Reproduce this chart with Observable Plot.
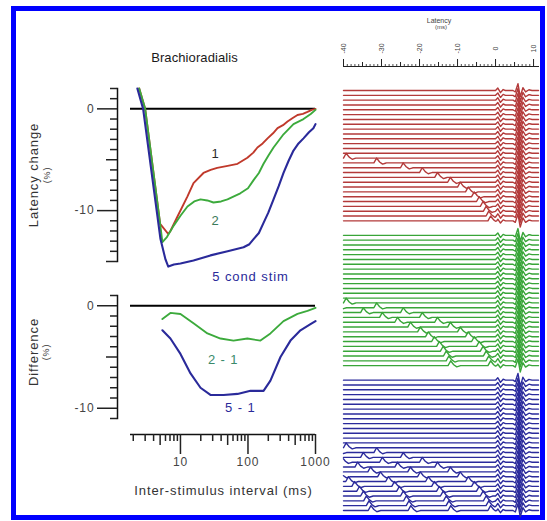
<!DOCTYPE html>
<html><head><meta charset="utf-8">
<script src="https://cdn.jsdelivr.net/npm/d3@7"></script>
<script src="https://cdn.jsdelivr.net/npm/@observablehq/plot@0.6"></script>
<style>
body{margin:0;background:#fff;}
#wrap{position:relative;width:547px;height:521px;overflow:hidden;font-family:"Liberation Sans",Arial,sans-serif;}
#wrap svg{position:absolute;left:0;top:0;}
#border{position:absolute;left:11px;top:6px;width:524px;height:504px;border:5px solid #0000ff;}
</style></head><body><div id="wrap"><div id="border"></div></div>
<script>
// ---------- data: left panels (ISI in ms, change in %) ----------
const redISI    = [2.45, 3.0, 5.0, 6.6, 7.1, 9.0, 12.7, 15.6, 21.9, 28, 35, 50, 70, 98, 120, 138, 165, 195, 235, 274, 330, 385, 460, 541, 650, 761, 880, 1000];
const redChange = [2.0, 0, -11.3, -12.3, -12.0, -10.6, -8.6, -7.3, -6.3, -6.0, -5.8, -5.6, -5.4, -4.8, -4.3, -3.8, -3.4, -2.9, -2.4, -1.9, -1.6, -1.25, -0.9, -0.6, -0.5, -0.3, -0.1, 0];
const greenISI    = [2.45, 3.0, 5.0, 5.4, 6.3, 7.9, 10, 12.7, 16, 19.8, 25, 30.8, 40, 49.7, 77, 100, 121, 145, 170, 200, 239, 336, 472, 664, 850, 1000];
const greenChange = [2.0, 0, -11.3, -13.1, -12.6, -11.5, -10.5, -9.6, -9.1, -8.9, -9.0, -9.2, -9.1, -8.9, -8.3, -7.8, -7.0, -6.3, -5.4, -4.6, -3.8, -2.5, -1.5, -1.0, -0.5, -0.1];
const blueISI    = [2.3, 2.8, 5.06, 6.0, 6.6, 8, 10, 15.6, 27.8, 50, 86, 105, 121, 145, 170, 200, 239, 285, 336, 400, 472, 560, 664, 800, 930, 1000];
const blueChange = [2.0, 0, -12.8, -14.8, -15.5, -15.3, -15.2, -14.9, -14.4, -14.0, -13.6, -13.3, -12.8, -12.2, -11.2, -10.2, -8.9, -7.6, -6.3, -5.1, -4.1, -3.4, -2.9, -2.3, -1.9, -1.5];

const diff21ISI = [5.4, 7.1, 10, 15.6, 25.1, 39.2, 61, 98, 153, 215, 336, 541, 761, 1000];
const diff21    = [-1.3, -0.7, -0.8, -1.7, -2.7, -3.2, -3.4, -3.2, -3.4, -2.7, -1.5, -0.8, -0.5, -0.2];
const diff51ISI = [5.4, 7.1, 10, 14.1, 19.8, 27.8, 43.4, 70, 109, 170, 215, 303, 426, 599, 843, 1000];
const diff51    = [-2.4, -3.2, -4.7, -6.6, -8.0, -8.7, -8.7, -8.6, -8.3, -8.3, -7.3, -5.0, -3.4, -2.4, -1.8, -1.5];

const topLabelText = ["1", "2", "5 cond stim"];
const topLabelISI  = [33, 33, 109];
const topLabelVal  = [-4.4, -11.0, -16.5];
const botLabelText = ["2 - 1", "5 - 1"];
const botLabelISI  = [43, 77];
const botLabelVal  = [-5.3, -10.0];

const yTopMajor = [0, -10];
const yTopMid = [-5, -15];
const yTopMinor = [2, 1, -1, -2, -3, -4, -6, -7, -8, -9, -11, -12, -13, -14];
const yBotMajor = [0, -10];
const yBotMid = [-5];
const yBotMinor = [1, -1, -2, -3, -4, -6, -7, -8, -9, -11];
const xMajor = [10, 100, 1000];
const xMid = [5, 50, 500];
const xMinor = [2, 3, 4, 6, 7, 8, 9, 20, 30, 40, 60, 70, 80, 90, 200, 300, 400, 600, 700, 800, 900];

// ---------- data: right panel (sweeps) ----------
const latencyTicks = [-40, -30, -20, -10, 0, 10];
const isiList = [1000, 794, 631, 501, 398, 316, 251, 200, 158, 126, 100, 79, 63, 50, 40, 32, 25, 20, 16, 12.6, 10, 7.9, 6.3, 5, 4, 3.2, 2.5, 2];
const groupStim = [1, 2, 5];
const groupRow0 = [0, 30, 60];
const trainGap = 10.5;
const responseShape = [[-0.5,0],[0,0],[0.6,0.5],[1.3,-0.45],[2.0,0.2],[2.6,0],[4.6,0],[5.2,-0.3],[5.9,1.4],[6.5,-1.3],[7.2,0.6],[7.9,-0.3],[8.8,0.15],[9.6,0]];
const artifactShape = [[0,0],[0.7,1.0],[1.5,0.2],[2.3,-0.25],[3.3,0]];

// ---------- styles ----------
const RED = "#c0392b", GREEN = "#3caa3c", BLUE = "#2a2a9a";
const TRACE = ["#b33a3a", "#38a538", "#2b2b9c"];
const W = 547, H = 521;
const FONT = "'Liberation Sans', Arial, sans-serif";
const baseStyle = {background: "none", fontFamily: FONT, color: "#222", overflow: "visible", letterSpacing: "0.9px"};
const isiDomain = [1.82, 1000];
const zip = (xs, ys) => xs.map((x, i) => ({x, y: ys[i]}));
const fmt = d => String(d);

const wrap = document.getElementById("wrap");

// ---------- top-left panel ----------
const topPlot = Plot.plot({
  width: W, height: H,
  marginLeft: 117, marginRight: W - 315, marginTop: 88, marginBottom: H - 261,
  x: {type: "log", domain: isiDomain, range: [130, 315], axis: null},
  y: {domain: [-15, 2]},
  style: baseStyle,
  marks: [
    Plot.frame({anchor: "left", stroke: "#111", strokeWidth: 1.5}),
    Plot.axisY({ticks: yTopMajor, tickSize: 20, tickPadding: 3, tickFormat: fmt, label: null, fontSize: 12, fill: "#444", strokeWidth: 1.5}),
    Plot.axisY({ticks: yTopMid, tickSize: 11, tickFormat: () => "", label: null, strokeWidth: 1.5}),
    Plot.axisY({ticks: yTopMinor, tickSize: 7, tickFormat: () => "", label: null, strokeWidth: 1.5}),
    Plot.ruleY([0], {x1: isiDomain[0], x2: isiDomain[1], stroke: "#000", strokeWidth: 2}),
    Plot.line(zip(redISI, redChange), {x: "x", y: "y", stroke: RED, strokeWidth: 1.9}),
    Plot.line(zip(greenISI, greenChange), {x: "x", y: "y", stroke: GREEN, strokeWidth: 1.9}),
    Plot.line(zip(blueISI, blueChange), {x: "x", y: "y", stroke: BLUE, strokeWidth: 2.1}),
    Plot.text(topLabelText, {x: (d, i) => topLabelISI[i], y: (d, i) => topLabelVal[i], text: d => d,
      fill: ["#2a2a2a", "#3a7a5a", BLUE], fontSize: 13}),
    Plot.text(["Brachioradialis"], {frameAnchor: "top", textAnchor: "middle", lineAnchor: "middle", dx: -22, dy: -31, fontSize: 13, fill: "#1a1a1a"}),
    Plot.text(["Latency change"], {frameAnchor: "left", textAnchor: "middle", lineAnchor: "middle", rotate: -90, dx: -84, fontSize: 13, fill: "#333"}),
    Plot.text(["(%)"], {frameAnchor: "left", textAnchor: "middle", lineAnchor: "middle", rotate: -90, dx: -70, fontSize: 9, fill: "#333"})
  ]
});
d3.select(topPlot).selectAll("text").filter(function() { return this.textContent === "Brachioradialis"; })
  .style("letter-spacing", "0.1px");
wrap.appendChild(topPlot);

// ---------- bottom-left panel ----------
const botPlot = Plot.plot({
  width: W, height: H,
  marginLeft: 117, marginRight: W - 315, marginTop: 295, marginBottom: H - 418,
  x: {type: "log", domain: isiDomain, range: [130, 315]},
  y: {domain: [-11, 1]},
  style: baseStyle,
  marks: [
    Plot.frame({anchor: "left", stroke: "#111", strokeWidth: 1.5}),
    Plot.axisY({ticks: yBotMajor, tickSize: 20, tickPadding: 3, tickFormat: fmt, label: null, fontSize: 12, fill: "#444", strokeWidth: 1.5}),
    Plot.axisY({ticks: yBotMid, tickSize: 11, tickFormat: () => "", label: null, strokeWidth: 1.5}),
    Plot.axisY({ticks: yBotMinor, tickSize: 7, tickFormat: () => "", label: null, strokeWidth: 1.5}),
    Plot.ruleY([-11], {x1: isiDomain[0], x2: isiDomain[1], dy: 16, stroke: "#111", strokeWidth: 1.5}),
    Plot.axisX({ticks: xMajor, tickSize: 20, tickPadding: 3, tickFormat: fmt, label: null, dy: 16, fontSize: 12, fill: "#444", strokeWidth: 1.5}),
    Plot.axisX({ticks: xMid, tickSize: 11, tickFormat: () => "", label: null, dy: 16, strokeWidth: 1.5}),
    Plot.axisX({ticks: xMinor, tickSize: 7, tickFormat: () => "", label: null, dy: 16, strokeWidth: 1.5}),
    Plot.ruleY([0], {x1: isiDomain[0], x2: isiDomain[1], stroke: "#000", strokeWidth: 2}),
    Plot.line(zip(diff21ISI, diff21), {x: "x", y: "y", stroke: GREEN, strokeWidth: 1.9}),
    Plot.line(zip(diff51ISI, diff51), {x: "x", y: "y", stroke: BLUE, strokeWidth: 2.1}),
    Plot.text(botLabelText, {x: (d, i) => botLabelISI[i], y: (d, i) => botLabelVal[i], text: d => d,
      fill: ["#3a8a6a", BLUE], fontSize: 13}),
    Plot.text(["Inter-stimulus interval (ms)"], {frameAnchor: "bottom", textAnchor: "middle", lineAnchor: "middle", dx: 7, dy: 72, fontSize: 13, fill: "#333"}),
    Plot.text(["Difference"], {frameAnchor: "left", textAnchor: "middle", lineAnchor: "middle", rotate: -90, dx: -84, dy: -5, fontSize: 13, fill: "#333"}),
    Plot.text(["(%)"], {frameAnchor: "left", textAnchor: "middle", lineAnchor: "middle", rotate: -90, dx: -71, dy: -5, fontSize: 9, fill: "#333"})
  ]
});
wrap.appendChild(botPlot);

// ---------- right panel: sweeps ----------
function shapeAt(shape, t) {
  if (t <= shape[0][0] || t >= shape[shape.length - 1][0]) return 0;
  for (let j = 1; j < shape.length; j++) {
    if (t <= shape[j][0]) {
      const [t0, a0] = shape[j - 1], [t1, a1] = shape[j];
      return a0 + (a1 - a0) * (t - t0) / (t1 - t0);
    }
  }
  return 0;
}
const latDomain = [-40, 11.3];
const sweeps = [];
groupStim.forEach((n, g) => {
  isiList.forEach((isi, i) => {
    const events = [{t0: 0, shape: responseShape}];
    for (let k = 0; k < n; k++) events.push({t0: -(isi + k * trainGap), shape: artifactShape});
    const times = new Set(d3.range(latDomain[0], latDomain[1], 1).concat([latDomain[1]]));
    events.forEach(e => e.shape.forEach(([dt]) => {
      const t = e.t0 + dt;
      if (t > latDomain[0] && t < latDomain[1]) times.add(t);
    }));
    const row = groupRow0[g] + i;
    Array.from(times).sort((a, b) => a - b).forEach(t => {
      const amp = d3.sum(events, e => shapeAt(e.shape, t - e.t0));
      sweeps.push({t, y: row - amp, trace: `${g}-${i}`, group: g});
    });
  });
});

const rightPlot = Plot.plot({
  width: W, height: H,
  marginLeft: 343, marginRight: W - 538, marginTop: 66, marginBottom: 11,
  x: {domain: latDomain, range: [343, 538]},
  y: {domain: [0, 87], range: [90, 510], axis: null},
  style: {...baseStyle, letterSpacing: "0px"},
  marks: [
    Plot.frame({anchor: "top", stroke: "#222", strokeWidth: 1}),
    Plot.axisX({anchor: "top", ticks: latencyTicks, tickSize: 8, tickFormat: () => "", label: null, strokeWidth: 1}),
    Plot.axisX({anchor: "top", ticks: d3.range(-40, 11, 5).filter(v => v % 10), tickSize: 5, tickFormat: () => "", label: null, strokeWidth: 1}),
    Plot.axisX({anchor: "top", ticks: d3.range(-40, 11, 1).filter(v => v % 5), tickSize: 3, tickFormat: () => "", label: null, strokeWidth: 0.8}),
    Plot.text(latencyTicks, {x: d => d, frameAnchor: "top", textAnchor: "middle", lineAnchor: "middle", dy: -18, rotate: -90, text: d => String(d), fontSize: 7, fill: "#444"}),
    Plot.text(["Latency"], {frameAnchor: "top", textAnchor: "middle", lineAnchor: "middle", dx: -2, dy: -46, fontSize: 7, fill: "#444"}),
    Plot.text(["(ms)"], {frameAnchor: "top", textAnchor: "middle", lineAnchor: "middle", dx: 0, dy: -39, fontSize: 6, fill: "#444"}),
    Plot.line(sweeps, {x: "t", y: "y", z: "trace", stroke: d => TRACE[d.group], strokeWidth: 1.4})
  ]
});
wrap.appendChild(rightPlot);
</script></body></html>
